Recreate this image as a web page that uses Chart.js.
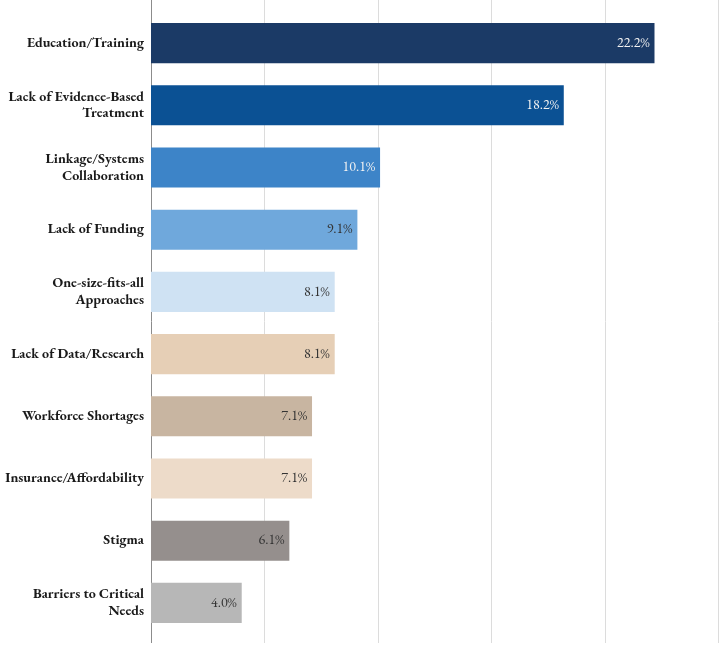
<!DOCTYPE html>
<html>
<head>
<meta charset="utf-8">
<script src="https://cdn.jsdelivr.net/npm/chart.js@4/dist/chart.umd.min.js"></script>
<style>
  html, body { margin: 0; padding: 0; background: #fff; }
  #wrap { width: 720px; height: 646px; }
</style>
</head>
<body>
<div id="wrap"><canvas id="barriersChart"></canvas></div>
<script>
//// Data
const categories = [
    "Education/Training",
    ["Lack of Evidence-Based", "Treatment"],
    ["Linkage/Systems", "Collaboration"],
    "Lack of Funding",
    ["One-size-fits-all", "Approaches"],
    "Lack of Data/Research",
    "Workforce Shortages",
    "Insurance/Affordability",
    "Stigma",
    ["Barriers to Critical", "Needs"]
];
const percentValues = [22.2, 18.2, 10.1, 9.1, 8.1, 8.1, 7.1, 7.1, 6.1, 4.0];
const xTicks = [0, 5, 10, 15, 20, 25];

const barColors = ['#1b3a66', '#0b5194', '#3d84c8', '#6fa8dc', '#cfe2f3',
                   '#e6cfb6', '#c8b5a1', '#eddbc9', '#958f8d', '#b7b7b7'];
const labelColors = ['#f2f2f2', '#f2f2f2', '#f2f2f2', '#333333', '#333333',
                     '#333333', '#333333', '#333333', '#333333', '#333333'];

const serifFont = "'EB Garamond', Garamond, 'Liberation Serif', 'DejaVu Serif', serif";

// gridlines + axis line, running the full height of the plot frame
const frameGrid = {
    id: 'frameGrid',
    beforeDatasetsDraw(chart) {
        const ctx = chart.ctx;
        const xScale = chart.scales.x;
        ctx.save();
        ctx.lineWidth = 1;
        xTicks.forEach(v => {
            const x = Math.round(xScale.getPixelForValue(v)) + 0.5;
            ctx.strokeStyle = v === 0 ? '#8c8c8c' : '#dcdcdc';
            ctx.beginPath();
            ctx.moveTo(x, 0);
            ctx.lineTo(x, 643);
            ctx.stroke();
        });
        ctx.restore();
    }
};

// value labels at the end of each bar
const valueLabels = {
    id: 'valueLabels',
    afterDatasetsDraw(chart) {
        const ctx = chart.ctx;
        const meta = chart.getDatasetMeta(0);
        ctx.save();
        ctx.font = "14px " + serifFont;
        ctx.textAlign = 'right';
        ctx.textBaseline = 'middle';
        meta.data.forEach((bar, i) => {
            ctx.fillStyle = labelColors[i];
            ctx.fillText(percentValues[i].toFixed(1) + '%', bar.x - 5, bar.y);
        });
        ctx.restore();
    }
};

//// Chart
new Chart(document.getElementById('barriersChart'), {
    type: 'bar',
    data: {
        labels: categories,
        datasets: [{
            data: percentValues,
            backgroundColor: barColors,
            borderWidth: 0,
            barPercentage: 0.645,
            categoryPercentage: 1
        }]
    },
    options: {
        indexAxis: 'y',
        responsive: true,
        maintainAspectRatio: false,
        animation: false,
        layout: { padding: { top: 12, bottom: 12, right: 2, left: 0 } },
        plugins: {
            legend: { display: false },
            tooltip: { enabled: false }
        },
        scales: {
            x: {
                min: xTicks[0],
                max: xTicks[xTicks.length - 1],
                afterBuildTicks: (scale) => { scale.ticks = xTicks.map(v => ({ value: v })); },
                ticks: { display: false },
                grid: { display: false, drawTicks: false },
                border: { display: false }
            },
            y: {
                afterFit: (scale) => {
                    scale.width = 151;
                    scale.paddingTop = 0;
                    scale.paddingBottom = 0;
                },
                grid: { display: false, drawTicks: false },
                border: { display: false },
                ticks: {
                    padding: 7,
                    color: '#1a1a1a',
                    font: { family: serifFont, size: 14, weight: 'bold', lineHeight: 1.2 }
                }
            }
        }
    },
    plugins: [frameGrid, valueLabels]
});
</script>
</body>
</html>
